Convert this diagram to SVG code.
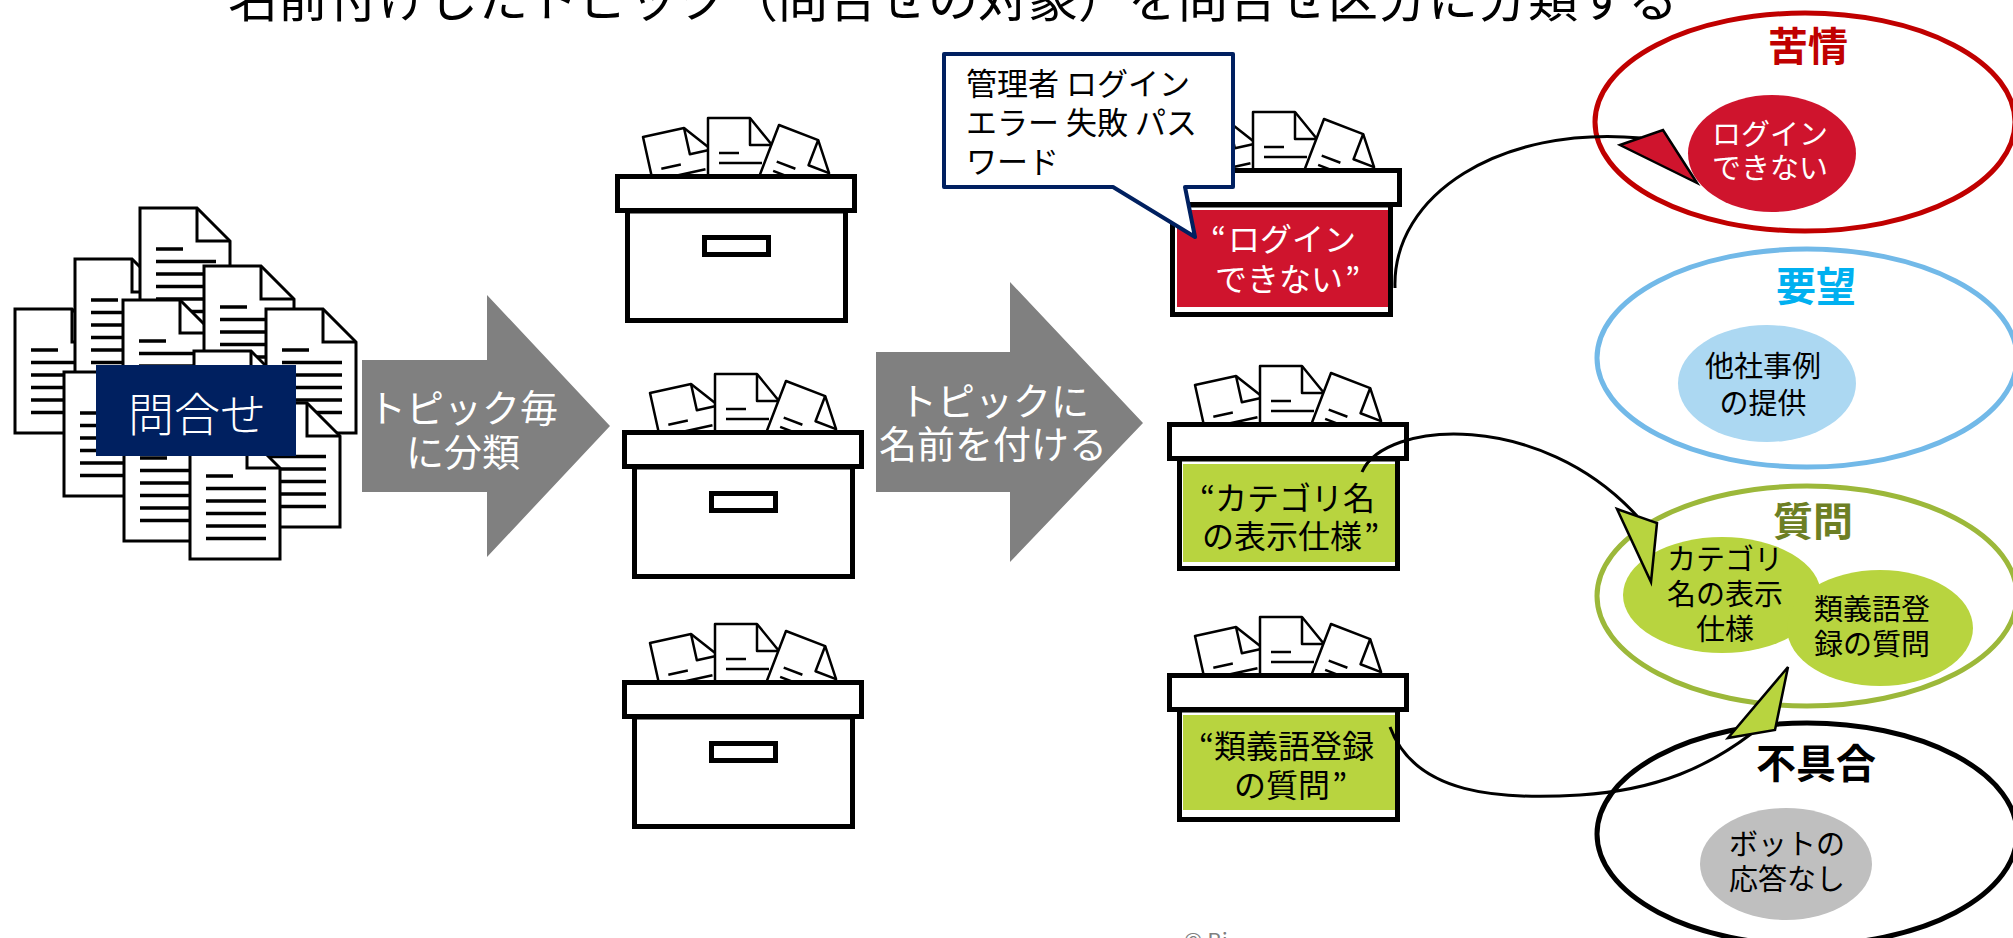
<svg xmlns="http://www.w3.org/2000/svg" width="2013" height="938" viewBox="0 0 2013 938">
  <defs>
    <style>
      text { font-family: "Noto Sans CJK JP", "Noto Sans", sans-serif; }
      .doc { fill: #fff; stroke: #000; stroke-width: 3; }
      .fold { fill: none; stroke: #000; stroke-width: 3; }
      .docline { fill: none; stroke: #000; stroke-width: 3.3; }
      .paper { fill: #fff; stroke: #000; stroke-width: 2.5; stroke-linejoin: round; }
      .paperfold { fill: none; stroke: #000; stroke-width: 2.5; stroke-linejoin: round; }
      .boxline { fill: #fff; stroke: #000; stroke-width: 5; }
      .bigarrow { fill: #808080; }
      .arrowtext { fill: #fff; font-size: 38px; text-anchor: middle; }
      .boxtext { font-size: 32px; }
      .conn { fill: none; stroke: #000; stroke-width: 3; }
      .head { stroke: #000; stroke-width: 2.5; stroke-linejoin: miter; }
      .grouplabel { font-size: 40px; font-weight: bold; text-anchor: middle; }
      .itemtext { font-size: 29px; text-anchor: middle; }
    </style>

    <!-- a single sheet of paper with folded corner and text lines -->
    <g id="doc-page">
      <path class="doc" d="M0,0 H57 L90,33 V124 H0 Z"/>
      <path class="fold" d="M57,0 V33 H90"/>
      <path class="docline" d="M16,41 H43 M16,53.5 H76 M16,66 H76 M16,78.5 H76 M16,91 H76 M16,103.5 H76"/>
    </g>

    <!-- a sheet sticking out of a storage box -->
    <g id="box-paper">
      <path class="paper" d="M0,0 H42 L64,27 V75 H0 Z"/>
      <path class="paperfold" d="M42,0 V27 H64"/>
      <path d="M11,35 H31 M11,45 H54" stroke="#000" stroke-width="2.5"/>
    </g>

    <!-- storage box with lid, handle and papers; origin = lid top-left -->
    <g id="storage-box">
      <use href="#box-paper" transform="translate(28,-37) rotate(-12.5)"/>
      <use href="#box-paper" transform="translate(93,-56)"/>
      <use href="#box-paper" transform="translate(164,-49) rotate(21)"/>
      <rect class="boxline" x="12.5" y="37" width="218" height="109.5"/>
      <rect class="boxline" x="2.5" y="2.5" width="237" height="34"/>
      <rect class="boxline" x="89.5" y="63.5" width="64" height="17"/>
    </g>
  </defs>

  <rect width="2013" height="938" fill="#fff"/>

  <!-- heading (top edge runs off the canvas) -->
  <g id="title">
    <text x="228" y="17" font-size="50" fill="#000">名前付けしたトピック（問合せの対象）を問合せ区分に分類する</text>
  </g>

  <!-- pile of inquiry documents -->
  <g id="inquiries">
    <use href="#doc-page" x="15" y="309"/>
    <use href="#doc-page" x="75" y="259"/>
    <use href="#doc-page" x="140" y="208"/>
    <use href="#doc-page" x="123" y="300"/>
    <use href="#doc-page" x="204" y="266"/>
    <use href="#doc-page" x="266" y="309"/>
    <use href="#doc-page" x="64" y="372"/>
    <use href="#doc-page" x="194" y="351"/>
    <use href="#doc-page" x="124" y="417"/>
    <use href="#doc-page" x="250" y="403"/>
    <use href="#doc-page" x="190" y="435"/>
    <rect x="96" y="365" width="200" height="91" fill="#002060"/>
    <text x="197" y="431" font-size="46" font-weight="300" fill="#fff" text-anchor="middle">問合せ</text>
  </g>

  <!-- step arrow: classify per topic -->
  <g id="arrow-classify">
    <polygon class="bigarrow" points="362,360 487,360 487,295 610,426 487,557 487,492 362,492"/>
    <text class="arrowtext" x="463" y="422">トピック毎</text>
    <text class="arrowtext" x="463" y="466">に分類</text>
  </g>

  <!-- unnamed topic boxes -->
  <g id="box-1"><use href="#storage-box" x="615" y="174"/></g>
  <g id="box-2"><use href="#storage-box" x="622" y="430"/></g>
  <g id="box-3"><use href="#storage-box" x="622" y="680"/></g>

  <!-- step arrow: name the topics -->
  <g id="arrow-name">
    <polygon class="bigarrow" points="876,352 1010,352 1010,282 1143,423 1010,562 1010,492 876,492"/>
    <text class="arrowtext" x="994" y="415">トピックに</text>
    <text class="arrowtext" x="993" y="458">名前を付ける</text>
  </g>

  <!-- named topic boxes -->
  <g id="box-login">
    <use href="#storage-box" x="1160" y="168"/>
    <rect x="1177" y="210" width="211" height="97" fill="#cf142d"/>
    <text class="boxtext" y="251" fill="#fff"><tspan x="1211">“</tspan><tspan x="1228">ログイン</tspan></text>
    <text class="boxtext" y="291" fill="#fff"><tspan x="1215">できない</tspan><tspan x="1345">”</tspan></text>
  </g>

  <g id="callout">
    <path d="M944,54 H1233 V187 H1185 L1195,237 L1113,187 H944 Z" fill="#fff" stroke="#002060" stroke-width="4" stroke-linejoin="round"/>
    <text x="966" y="95" font-size="31" fill="#000">管理者 ログイン</text>
    <text x="966" y="134" font-size="31" fill="#000">エラー 失敗 パス</text>
    <text x="966" y="173" font-size="31" fill="#000">ワード</text>
  </g>

  <g id="box-category">
    <use href="#storage-box" x="1167" y="422"/>
    <rect x="1183" y="464" width="212" height="98" fill="#b8d43f"/>
    <text class="boxtext" y="510" fill="#000"><tspan x="1200">“</tspan><tspan x="1215">カテゴリ名</tspan></text>
    <text class="boxtext" y="548" fill="#000"><tspan x="1202">の表示仕様</tspan><tspan x="1364">”</tspan></text>
  </g>

  <g id="box-synonym">
    <use href="#storage-box" x="1167" y="673"/>
    <rect x="1183" y="715" width="212" height="95" fill="#b8d43f"/>
    <text class="boxtext" y="758" fill="#000"><tspan x="1199">“</tspan><tspan x="1214">類義語登録</tspan></text>
    <text class="boxtext" y="797" fill="#000"><tspan x="1234">の質問</tspan><tspan x="1332">”</tspan></text>
  </g>

  <!-- classification groups -->
  <g id="group-complaint">
    <ellipse cx="1805" cy="122" rx="210" ry="109" fill="none" stroke="#c00000" stroke-width="5"/>
    <text class="grouplabel" x="1808" y="61" fill="#c00000">苦情</text>
    <ellipse cx="1772" cy="153.5" rx="84" ry="58.5" fill="#cf142d"/>
    <text class="itemtext" x="1770" y="145" fill="#fff">ログイン</text>
    <text class="itemtext" x="1770" y="179" fill="#fff">できない</text>
  </g>

  <g id="group-request">
    <ellipse cx="1807" cy="358" rx="210" ry="109" fill="none" stroke="#72b9e8" stroke-width="5"/>
    <text class="grouplabel" x="1816" y="301" fill="#00b0f0">要望</text>
    <ellipse cx="1767" cy="383.5" rx="89" ry="58.5" fill="#acd8f2"/>
    <text class="itemtext" x="1763" y="377" fill="#000">他社事例</text>
    <text class="itemtext" x="1763" y="414" fill="#000">の提供</text>
  </g>

  <g id="group-question">
    <ellipse cx="1807" cy="596" rx="210" ry="110" fill="none" stroke="#9cb83a" stroke-width="5"/>
    <text class="grouplabel" x="1813" y="536" fill="#6d7f24">質問</text>
    <ellipse cx="1722" cy="595" rx="99" ry="58" fill="#b8d43f"/>
    <ellipse cx="1880" cy="628" rx="93" ry="58" fill="#b8d43f"/>
    <text class="itemtext" x="1725" y="570" fill="#000">カテゴリ</text>
    <text class="itemtext" x="1725" y="605" fill="#000">名の表示</text>
    <text class="itemtext" x="1725" y="640" fill="#000">仕様</text>
    <text class="itemtext" x="1872" y="620" fill="#000">類義語登</text>
    <text class="itemtext" x="1872" y="655" fill="#000">録の質問</text>
  </g>

  <g id="group-defect">
    <ellipse cx="1807" cy="834" rx="210" ry="111" fill="none" stroke="#000" stroke-width="5"/>
    <text class="grouplabel" x="1816" y="778" fill="#000">不具合</text>
    <ellipse cx="1786" cy="864" rx="86" ry="56" fill="#bfbfbf"/>
    <text class="itemtext" x="1787" y="855" fill="#000">ボットの</text>
    <text class="itemtext" x="1787" y="890" fill="#000">応答なし</text>
  </g>

  <!-- links from named topics to their groups -->
  <g id="connectors">
    <path class="conn" d="M1395,288 C1392,195 1500,125 1641,138"/>
    <polygon class="head" points="1620,145 1663,130 1697,183" fill="#cf142d"/>
    <path class="conn" d="M1362,472 C1385,420 1540,410 1637,516"/>
    <polygon class="head" points="1617,509 1657,523 1651,582" fill="#b8d43f"/>
    <path class="conn" d="M1390,727 C1415,795 1500,800 1580,795 S1710,765 1751,734"/>
    <polygon class="head" points="1728,738 1775,730 1788,667" fill="#b8d43f"/>
  </g>

  <g id="copyright">
    <text x="1184" y="949" font-size="22" fill="#7f7f7f">© Bi</text>
  </g>
</svg>
